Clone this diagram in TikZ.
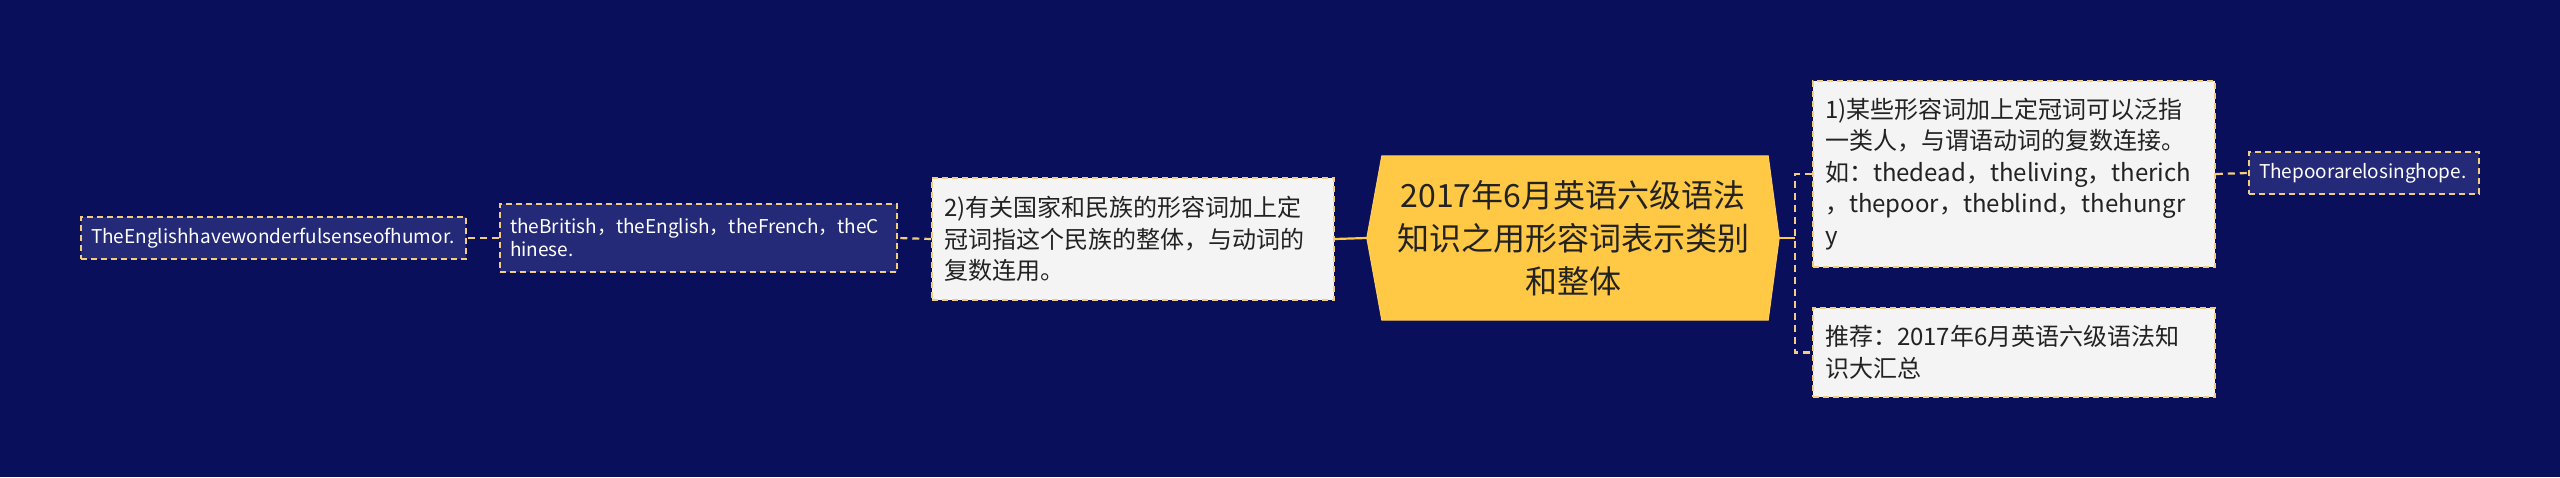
\documentclass[tikz,border=0pt]{standalone}
\usepackage{fontspec}
\setmainfont{Noto Sans CJK SC}
\definecolor{bg}{HTML}{0A0F5C}
\definecolor{darkfill}{HTML}{242A78}
\definecolor{lightfill}{HTML}{F4F4F4}
\definecolor{gold}{HTML}{FFC845}
\definecolor{dashc}{HTML}{F3CD7E}
\definecolor{txt}{HTML}{222222}
\tikzset{
  lightbox/.style={draw=dashc, fill=lightfill, dash pattern=on 6pt off 4pt, line width=1.5pt,
     inner xsep=12pt, inner ysep=4pt, align=left, text=txt,
     font=\fontsize{24}{31.5}\selectfont},
  darkbox/.style={draw=dashc, fill=darkfill, dash pattern=on 6pt off 4pt, line width=1.5pt,
     inner xsep=10pt, inner ysep=4pt, align=left, text=white,
     font=\fontsize{19}{23}\selectfont},
  solidlink/.style={draw=gold, line width=2.2pt},
  dashlink/.style={draw=dashc, line width=2.2pt, dash pattern=on 7pt off 5pt},
}
\begin{document}
\begin{tikzpicture}[x=1pt,y=-1pt]
\path[fill=bg,use as bounding box] (0,0) rectangle (2560,477);

% centre
\node[minimum width=412pt, minimum height=164pt, inner sep=0pt] (c) at (1573,238) {};
\path[fill=gold, draw=gold!90!white, line width=1pt]
  (c.west) -- ([xshift=15pt]c.north west) -- ([xshift=-11pt]c.north east) -- (c.east)
  -- ([xshift=-11pt]c.south east) -- ([xshift=15pt]c.south west) -- cycle;
\node[align=center, text=txt, font=\fontsize{32}{43}\selectfont] (ct) at (c.center)
  {2017年6月英语六级语法\\知识之用形容词表示类别\\和整体};

% left branch
\node[lightbox, text width=378pt, minimum height=122pt] (l1) at (1133,239)
  {2)有关国家和民族的形容词加上定\\冠词指这个民族的整体，与动词的\\复数连用。};
\node[darkbox, text width=377pt, minimum height=68pt] (l2) at (698.5,238)
  {theBritish，theEnglish，theFrench，theC\\hinese.};
\node[darkbox, text width=365pt, minimum height=42pt] (l3) at (273.5,238)
  {TheEnglishhavewonderfulsenseofhumor.};

% right branch
\node[lightbox, text width=378pt, minimum height=186pt] (r1) at (2014,174)
  {1)某些形容词加上定冠词可以泛指\\一类人，与谓语动词的复数连接。\\如：thedead，theliving，therich\\，thepoor，theblind，thehungr\\y};
\node[lightbox, text width=378pt, minimum height=89pt] (r2) at (2014,352.5)
  {推荐：2017年6月英语六级语法知\\识大汇总};
\node[darkbox, text width=210pt, minimum height=42pt] (r3) at (2364,173)
  {Thepoorarelosinghope.};

\coordinate (j) at (1795,238);

\draw[solidlink] (c.west) -- (l1.east);
\draw[dashlink] (l1.west) -- (l2.east);
\draw[dashlink] (l2.west) -- (l3.east);
\draw[solidlink] (c.east) -- (j);
\draw[dashlink] (r1.west) -| (j) |- (r2.west);
\draw[dashlink] (r1.east) -- (r3.west);
\end{tikzpicture}
\end{document}
